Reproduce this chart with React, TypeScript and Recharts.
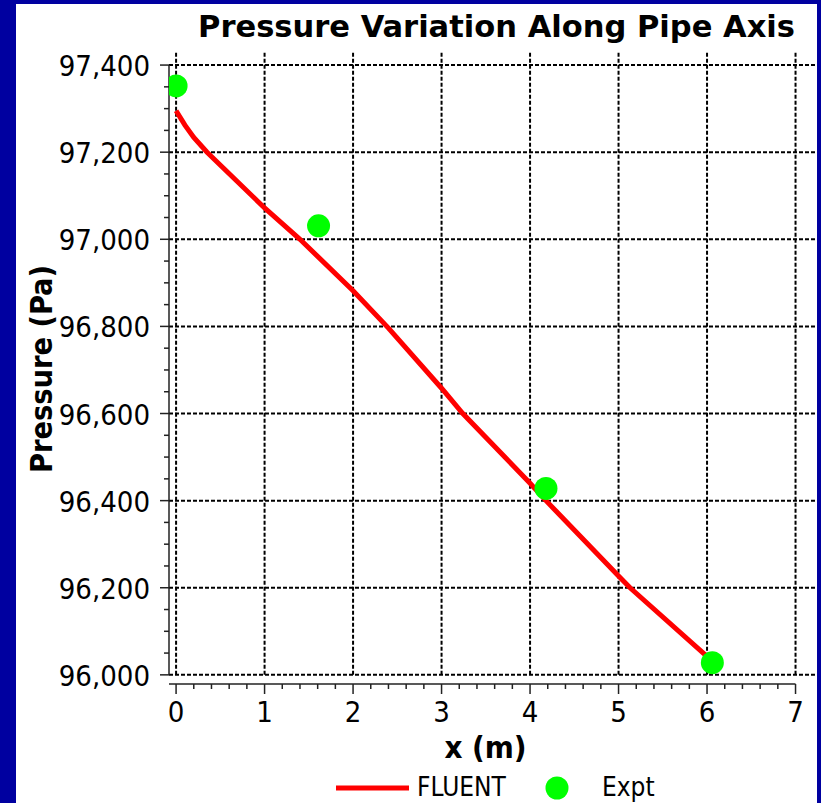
import { ComposedChart, Line, Scatter, XAxis, YAxis, ReferenceLine, Legend } from 'recharts';

// FLUENT solution along the pipe axis
const fluentX = [0, 0.1, 0.2, 0.35, 1.0, 1.4, 2.0, 2.4, 3.0, 3.24, 4.0, 4.18, 5.0, 5.13, 5.98];
const fluentP = [97295, 97262, 97234, 97200, 97072, 97000, 96882, 96796, 96658, 96600, 96440, 96400, 96227, 96200, 96046];

// experimental points
const exptX = [0, 1.61, 4.18, 6.06];
const exptP = [97352, 97031, 96428, 96028];

const xMajorTicks = [0, 1, 2, 3, 4, 5, 6, 7];
const yMajorTicks = [96000, 96200, 96400, 96600, 96800, 97000, 97200, 97400];
const xMinorTicks = Array.from({ length: 36 }, (_, i) => Math.round(i * 2) / 10);
const yMinorTicks = Array.from({ length: 29 }, (_, i) => 96000 + i * 50);

const X_DOMAIN: [number, number] = [-0.08, 7.22];
const Y_DOMAIN: [number, number] = [95979, 97430];

const fluentData = fluentX.map((x, i) => ({ x, p: fluentP[i] }));
const exptData = exptX.map((x, i) => ({ x, p: exptP[i] }));

const FONT = '"DejaVu Sans Condensed", "DejaVu Sans", sans-serif';
const RED = '#ff0000';
const GREEN = '#00ff00';
const GRID_DASH = '4 2';

const XTick = ({ x, y, payload }: any) => {
  const v = payload.value;
  const major = xMajorTicks.includes(v);
  return (
    <g>
      <line x1={x} x2={x} y1={y} y2={y + (major ? 10 : 5)} stroke="#222" strokeWidth={1.5} />
      {major && (
        <text x={x} y={y + 38} textAnchor="middle" fontSize={29} fontFamily={FONT} fill="#000">
          {v}
        </text>
      )}
    </g>
  );
};

const YTick = ({ x, y, payload }: any) => {
  const v = payload.value;
  const major = yMajorTicks.includes(v);
  return (
    <g>
      <line x1={x} x2={x - (major ? 9 : 5)} y1={y} y2={y} stroke="#222" strokeWidth={1.5} />
      {major && (
        <text x={x - 19} y={y + 11} textAnchor="end" fontSize={29} fontFamily={FONT} fill="#000">
          {v.toLocaleString('en-US')}
        </text>
      )}
    </g>
  );
};

const ExptDot = (props: any) => <circle cx={props.cx} cy={props.cy} r={11.5} fill={GREEN} />;

const renderLegend = () => (
  <svg width={821} height={43}>
    <line x1={336} x2={409} y1={28} y2={28} stroke={RED} strokeWidth={5} />
    <text x={417} y={36} fontSize={26} fontFamily={FONT} fill="#000">FLUENT</text>
    <circle cx={557} cy={28} r={11.5} fill={GREEN} />
    <text x={602} y={36} fontSize={26} fontFamily={FONT} fill="#000">Expt</text>
  </svg>
);

export default function App() {
  return (
    <div style={{ position: 'absolute', left: 0, top: 0, width: 821, height: 803, background: '#0000a0', overflow: 'hidden' }}>
      <div style={{ position: 'absolute', left: 16, top: 4, width: 801, height: 799, background: '#fff' }} />
      <div style={{ position: 'absolute', left: 0, top: 0 }}>
        <ComposedChart width={821} height={803} margin={{ top: 52, right: 6, bottom: 59, left: 19 }}>
          {yMajorTicks.map((v) => (
            <ReferenceLine key={`h${v}`} y={v} stroke="#000" strokeWidth={2} strokeDasharray={GRID_DASH} />
          ))}
          {xMajorTicks.map((v) => (
            <ReferenceLine
              key={`v${v}`}
              segment={[{ x: v, y: 96000 }, { x: v, y: Y_DOMAIN[1] }]}
              stroke="#000"
              strokeWidth={2}
              strokeDasharray={GRID_DASH}
            />
          ))}
          <ReferenceLine segment={[{ x: X_DOMAIN[0], y: 96000 }, { x: X_DOMAIN[0], y: 97400 }]} stroke="#222" strokeWidth={1.5} />
          <ReferenceLine segment={[{ x: X_DOMAIN[0], y: Y_DOMAIN[0] }, { x: 7, y: Y_DOMAIN[0] }]} stroke="#222" strokeWidth={1.5} />
          <XAxis
            type="number"
            dataKey="x"
            domain={X_DOMAIN}
            ticks={xMinorTicks}
            interval={0}
            allowDataOverflow
            axisLine={false}
            tickLine={false}
            tickSize={0}
            tickMargin={0}
            height={60}
            tick={<XTick />}
          />
          <YAxis
            type="number"
            dataKey="p"
            domain={Y_DOMAIN}
            ticks={yMinorTicks}
            interval={0}
            allowDataOverflow
            axisLine={false}
            tickLine={false}
            tickSize={0}
            tickMargin={0}
            width={150}
            tick={<YTick />}
          />
          <Line
            data={fluentData}
            dataKey="p"
            name="FLUENT"
            type="linear"
            stroke={RED}
            strokeWidth={5}
            dot={false}
            isAnimationActive={false}
          />
          <Scatter data={exptData} dataKey="p" name="Expt" fill={GREEN} shape={<ExptDot />} isAnimationActive={false} />
          <Legend
            layout="horizontal"
            verticalAlign="middle"
            align="center"
            content={renderLegend}
            wrapperStyle={{ left: 0, top: 760, width: 821, height: 43 }}
          />
        </ComposedChart>
      </div>
      <svg width={821} height={803} style={{ position: 'absolute', left: 0, top: 0, pointerEvents: 'none' }}>
        <text x={496.5} y={37} textAnchor="middle" fontSize={31} fontWeight="bold" fontFamily={FONT} fill="#000" textLength={597} lengthAdjust="spacingAndGlyphs">
          Pressure Variation Along Pipe Axis
        </text>
        <text x={485.5} y={758} textAnchor="middle" fontSize={31} fontWeight="bold" fontFamily={FONT} fill="#000">
          x (m)
        </text>
        <text
          transform="translate(52, 369) rotate(-90)"
          textAnchor="middle"
          fontSize={30}
          fontWeight="bold"
          fontFamily={FONT}
          fill="#000"
          textLength={208}
          lengthAdjust="spacingAndGlyphs"
        >
          Pressure (Pa)
        </text>
      </svg>
    </div>
  );
}
